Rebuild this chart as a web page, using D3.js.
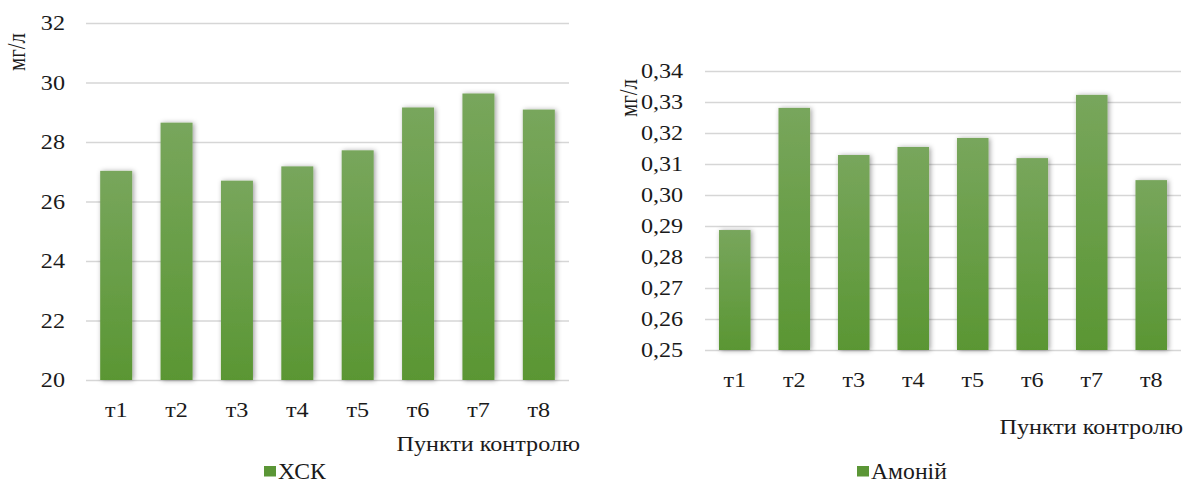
<!DOCTYPE html>
<html>
<head>
<meta charset="utf-8">
<script src="https://cdn.jsdelivr.net/npm/d3@7/dist/d3.min.js"></script>
<style>
  html, body { margin: 0; padding: 0; background: #fff; }
  svg { display: block; }
</style>
</head>
<body>
<svg id="chart" width="1186" height="482"></svg>
<script>
// Monitoring points
const points = ["т1", "т2", "т3", "т4", "т5", "т6", "т7", "т8"];

// ХСК (chemical oxygen demand), mg/l
const hskValues = [27.03, 28.65, 26.70, 27.18, 27.72, 29.16, 29.63, 29.09];
const hskTicks = [20, 22, 24, 26, 28, 30, 32];

// Ammonium, mg/l
const ammoniumValues = [0.2887, 0.3281, 0.3129, 0.3155, 0.3184, 0.3119, 0.3323, 0.3048];
const ammoniumTicks = [0.25, 0.26, 0.27, 0.28, 0.29, 0.30, 0.31, 0.32, 0.33, 0.34];

const FONT = "Liberation Serif";
const INK = "#1a1a1a";
const WIDE = "scale(1.15,1)";   // slightly widened lettering

const svg = d3.select("#chart");
const defs = svg.append("defs");

// vertical gradient for bars: lighter on top, deeper green at the base
const grad = defs.append("linearGradient")
  .attr("id", "barGrad").attr("x1", 0).attr("y1", 0).attr("x2", 0).attr("y2", 1);
grad.append("stop").attr("offset", "0%").attr("stop-color", "#78a65c");
grad.append("stop").attr("offset", "100%").attr("stop-color", "#5a9633");

// soft shadow around each bar
const shadow = defs.append("filter").attr("id", "barShadow")
  .attr("x", "-50%").attr("y", "-10%").attr("width", "200%").attr("height", "120%");
shadow.append("feDropShadow")
  .attr("dx", 1.5).attr("dy", 0.5).attr("stdDeviation", 2.6)
  .attr("flood-color", "#000").attr("flood-opacity", 0.38);

function styleText(sel, size) {
  return sel.attr("font-family", FONT).style("font-family", FONT)
    .style("font-size", (size || 21) + "px").attr("fill", INK);
}

function drawPanel(cfg) {
  const g = svg.append("g");
  const x = d3.scaleBand().domain(points)
    .range([cfg.left, cfg.right]).paddingInner(0.47).paddingOuter(0.235);
  const y = d3.scaleLinear().domain(cfg.domain).range([cfg.bottom, cfg.top]);

  // horizontal gridlines with value labels
  const yAxis = d3.axisLeft(y).tickValues(cfg.ticks).tickFormat(cfg.format)
    .tickSize(-(cfg.right - cfg.left)).tickPadding(cfg.tickPad);
  const ya = g.append("g").attr("transform", `translate(${cfg.left},0)`).call(yAxis);
  ya.attr("font-family", null).attr("font-size", null);
  ya.select(".domain").remove();
  ya.selectAll(".tick line").attr("stroke", "#d6d6d6").attr("stroke-width", 1.6);
  styleText(ya.selectAll(".tick text")).attr("transform", WIDE);

  // bars
  g.append("g").selectAll("rect").data(cfg.values).join("rect")
    .attr("x", (d, i) => x(points[i]))
    .attr("y", d => y(d))
    .attr("width", x.bandwidth())
    .attr("height", d => cfg.bottom - y(d))
    .attr("fill", "url(#barGrad)")
    .attr("filter", "url(#barShadow)");

  // category labels
  const xAxis = d3.axisBottom(x).tickSize(0).tickPadding(cfg.xPad);
  const xa = g.append("g").attr("transform", `translate(0,${cfg.bottom})`).call(xAxis);
  xa.attr("font-family", null).attr("font-size", null);
  xa.select(".domain").remove();
  styleText(xa.selectAll(".tick text")).attr("transform", WIDE);

  // axis titles
  styleText(g.append("text")
    .attr("transform", `translate(${cfg.yTitleX},${cfg.yTitleY}) ${WIDE} rotate(-90)`)
    .attr("text-anchor", "middle")
    .text("мг/л"));
  styleText(g.append("text")
    .attr("transform", `translate(${cfg.xTitleX},${cfg.xTitleY}) ${WIDE}`)
    .attr("text-anchor", "end").text("Пункти контролю"));

  // legend
  g.append("rect").attr("x", cfg.legendX).attr("y", 466)
    .attr("width", 12).attr("height", 10.5).attr("fill", "#5b9636");
  styleText(g.append("text")
    .attr("transform", `translate(${cfg.legendX + 14},479) scale(1.03,1)`)
    .text(cfg.name), 23);
}

drawPanel({
  name: "ХСК", values: hskValues, ticks: hskTicks, domain: [20, 32],
  format: d => d3.format("d")(d),
  left: 86, right: 569, top: 23, bottom: 380, tickPad: 18.3, xPad: 22,
  yTitleX: 25, yTitleY: 52, xTitleX: 580, xTitleY: 451,
  legendX: 264
});

drawPanel({
  name: "Амоній", values: ammoniumValues, ticks: ammoniumTicks, domain: [0.25, 0.34],
  format: d => d3.format(".2f")(d).replace(".", ","),
  left: 705, right: 1181, top: 71, bottom: 350, tickPad: 19, xPad: 22,
  yTitleX: 637, yTitleY: 98, xTitleX: 1183, xTitleY: 434,
  legendX: 857
});
</script>
</body>
</html>
